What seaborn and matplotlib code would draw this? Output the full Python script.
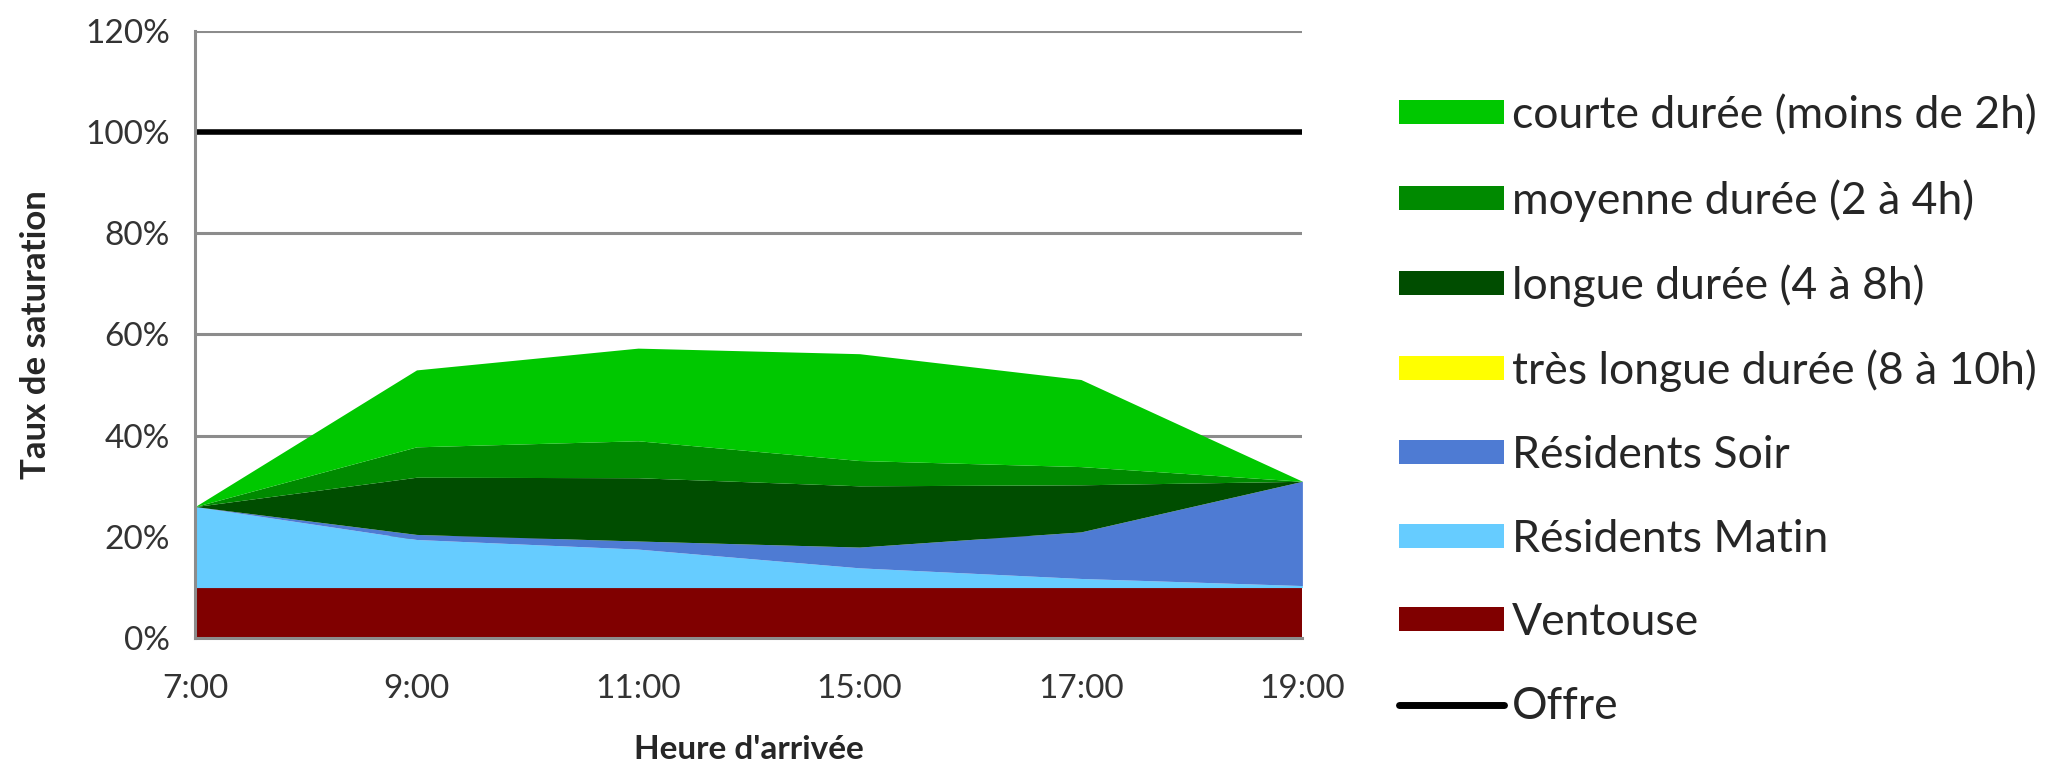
import numpy as np
import pandas as pd
import matplotlib
matplotlib.use("Agg")
import matplotlib.pyplot as plt
import seaborn as sns
from matplotlib.patches import Patch
from matplotlib.lines import Line2D
from matplotlib.ticker import PercentFormatter

hours = ["7:00", "9:00", "11:00", "15:00", "17:00", "19:00"]

# stacked shares (%), bottom to top
ventouse = [10, 10, 10, 10, 10, 10]
residents_matin = [16, 9.5, 7.6, 3.9, 1.8, 0.4]
residents_soir = [0, 1, 1.6, 4.1, 9.2, 20.6]
tres_longue = [0, 0, 0, 0, 0, 0]
longue = [0, 11.3, 12.5, 12.1, 9.3, 0]
moyenne = [0, 6, 7.3, 5, 3.6, 0]
courte = [0, 15.2, 18.3, 21.1, 17.2, 0]
offre = [100, 100, 100, 100, 100, 100]

labels = ["Ventouse", "Résidents Matin", "Résidents Soir",
          "très longue durée (8 à 10h)", "longue durée (4 à 8h)",
          "moyenne durée (2 à 4h)", "courte durée (moins de 2h)"]
colors = ["#800000", "#66CCFF", "#4E7BD3", "#FFFF00", "#004D00", "#008A00", "#00C800"]

sns.set_theme(style="white")
plt.rcParams['font.family'] = ['Lato', 'DejaVu Sans']

fig = plt.figure(figsize=(20.64, 7.68), dpi=100)
ax = fig.add_axes([0.0945, 0.169, 0.5365, 0.791])

x = np.arange(len(hours))
ax.stackplot(x, ventouse, residents_matin, residents_soir, tres_longue,
             longue, moyenne, courte, colors=colors, linewidth=0)

df_offre = pd.DataFrame({"x": x, "Offre": offre})
sns.lineplot(data=df_offre, x="x", y="Offre", color="black", linewidth=4, ax=ax)

ax.set_xlim(0, len(hours) - 1)
ax.set_ylim(0, 120)
ax.set_yticks(range(0, 121, 20))
ax.yaxis.set_major_formatter(PercentFormatter(decimals=0))
ax.set_xticks(x)
ax.set_xticklabels(hours)
ax.yaxis.grid(True, color="#8C8C8C", linewidth=2.2)
ax.set_axisbelow(True)
for s in ["top", "right"]:
    ax.spines[s].set_visible(False)
for s in ["left", "bottom"]:
    ax.spines[s].set_color("#8C8C8C")
    ax.spines[s].set_linewidth(2.2)
ax.tick_params(axis="both", which="both", direction="out", length=8, width=2,
               color="#8C8C8C", labelsize=24, labelcolor="#333333", pad=10)
ax.tick_params(axis="x", pad=18)
ax.set_xlabel("Heure d'arrivée", fontsize=24, fontweight="bold", labelpad=22)
ax.set_ylabel("Taux de saturation", fontsize=25, fontweight="bold", labelpad=24)

handles = [Patch(facecolor=c, edgecolor="none") for c in colors[::-1]]
handles.append(Line2D([0], [0], color="black", linewidth=5))
fig.legend(handles, labels[::-1] + ["Offre"], loc="upper left",
           bbox_to_anchor=(1399 / 2064, 1 - 95 / 768), frameon=False,
           fontsize=32, handlelength=2.36, handleheight=0.45, handletextpad=0.18,
           labelspacing=0.96, borderpad=0, borderaxespad=0)

fig.savefig("out.png", dpi=100)
